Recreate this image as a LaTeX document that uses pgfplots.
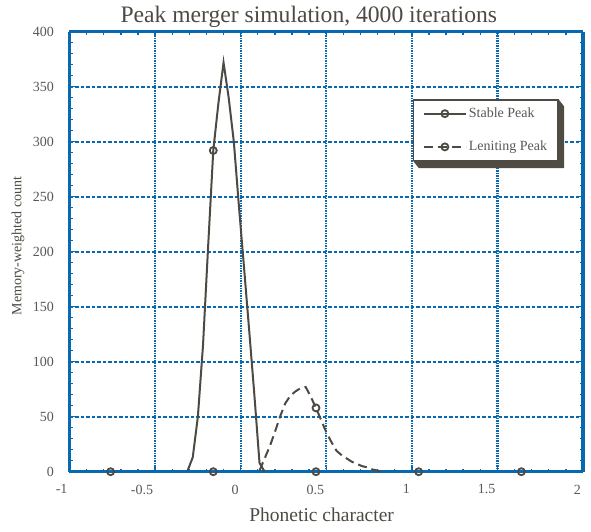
\documentclass[border=0pt]{standalone}
\usepackage{fontspec}
\setmainfont{Liberation Serif}
\usepackage{pgfplots}
\pgfplotsset{compat=1.18}

\definecolor{axisblue}{RGB}{8,104,176}
\definecolor{linegray}{RGB}{77,74,68}
\definecolor{textgray}{RGB}{88,88,88}
\definecolor{shadowc}{RGB}{80,76,68}

\begin{document}
\begin{tikzpicture}
\useasboundingbox (-69.5pt,-59.3pt) rectangle (521.5pt,471.7pt);
\begin{axis}[
    scale only axis,
    width=513.5pt,
    height=440pt,
    xmin=-1, xmax=2,
    ymin=0, ymax=400,
    xtick distance=0.5,
    ytick distance=50,
    minor tick num=4,
    tick align=inside,
    major tick length=5pt,
    minor tick length=3pt,
    tick style={axisblue, line width=1.4pt},
    separate axis lines,
    x axis line style={axisblue, line width=3pt},
    y axis line style={axisblue, line width=3.5pt},
    xmajorgrids, ymajorgrids,
    grid style={axisblue, line width=2.3pt},
    x grid style={dash pattern=on 1.5pt off 1pt},
    y grid style={dash pattern=on 3.5pt off 2pt},
    /pgf/number format/assume math mode=true,
    tick label style={font=\fontsize{14}{16}\selectfont, text=textgray},
    xticklabel style={anchor=north east, xshift=1.5pt, yshift=-9.5pt},
    yticklabel style={xshift=-12pt},
    title={Peak merger simulation, 4000 iterations},
    title style={font=\fontsize{23.6}{26}\selectfont, text=linegray,
        at={(axis description cs:0.466,1)}, anchor=base, yshift=3.3pt},
    xlabel={Phonetic character},
    xlabel style={font=\fontsize{19.5}{22}\selectfont, text=linegray,
        at={(axis description cs:0.491,-0.098)}, anchor=center},
    ylabel={Memory-weighted count},
    ylabel style={font=\fontsize{14}{16}\selectfont, text=linegray,
        at={(axis description cs:-0.1003,0.513)}, anchor=center},
    clip=false,
    legend style={
        name=leg,
        at={(axis description cs:0.6695,0.846)}, anchor=north west,
        draw=linegray, line width=1.2pt, fill=white,
        font=\fontsize{14}{16}\selectfont, text=textgray,
        inner xsep=9pt, inner ysep=6pt, row sep=18pt,
    },
    legend cell align=left,
    legend image code/.code={
        \draw[#1, mark indices={2}] plot coordinates {(0pt,0pt) (21pt,0pt) (42pt,0pt)};
    },
]
% Stable Peak
\addplot[linegray, line width=2pt, mark=o, mark size=3.5pt,
    mark options={solid, line width=1.8pt}, mark indices={6}] coordinates {
    (-0.31,1) (-0.28,13) (-0.25,50) (-0.22,115) (-0.19,205) (-0.16,292)
    (-0.13,335) (-0.10,372) (-0.07,340) (-0.04,300) (-0.01,241) (0.02,185)
    (0.05,128) (0.08,70) (0.11,8) (0.14,0)
};
\addlegendentry{Stable Peak}
% Leniting Peak
\addplot[linegray, line width=2pt, dash pattern=on 9pt off 5pt, mark=o, mark size=3.5pt,
    mark options={solid, line width=1.8pt}, mark indices={12}] coordinates {
    (0.11,1) (0.14,12) (0.17,23) (0.20,36) (0.23,50) (0.26,62) (0.29,69)
    (0.32,73) (0.35,76) (0.38,77) (0.41,68) (0.44,58) (0.47,47) (0.50,36)
    (0.53,27) (0.56,19) (0.59,15) (0.62,12) (0.65,9) (0.68,7) (0.71,5)
    (0.74,4) (0.77,2) (0.80,1) (0.83,0)
};
\addlegendentry{Leniting Peak}
% markers of both series that lie on the baseline
\addplot[only marks, linegray, mark=o, mark size=3.5pt,
    mark options={line width=1.8pt}, forget plot] coordinates {
    (-0.76,0) (-0.16,0) (0.44,0) (1.04,0) (1.64,0)
};
\end{axis}
% bevelled shadow of the legend box
\fill[shadowc] (leg.north east) -- ++(5.5pt,-7pt) -- ([shift={(5.5pt,-7pt)}]leg.south east)
    -- ([shift={(5.5pt,-7pt)}]leg.south west) -- (leg.south west) -- (leg.south east) -- cycle;
\end{tikzpicture}
\end{document}
